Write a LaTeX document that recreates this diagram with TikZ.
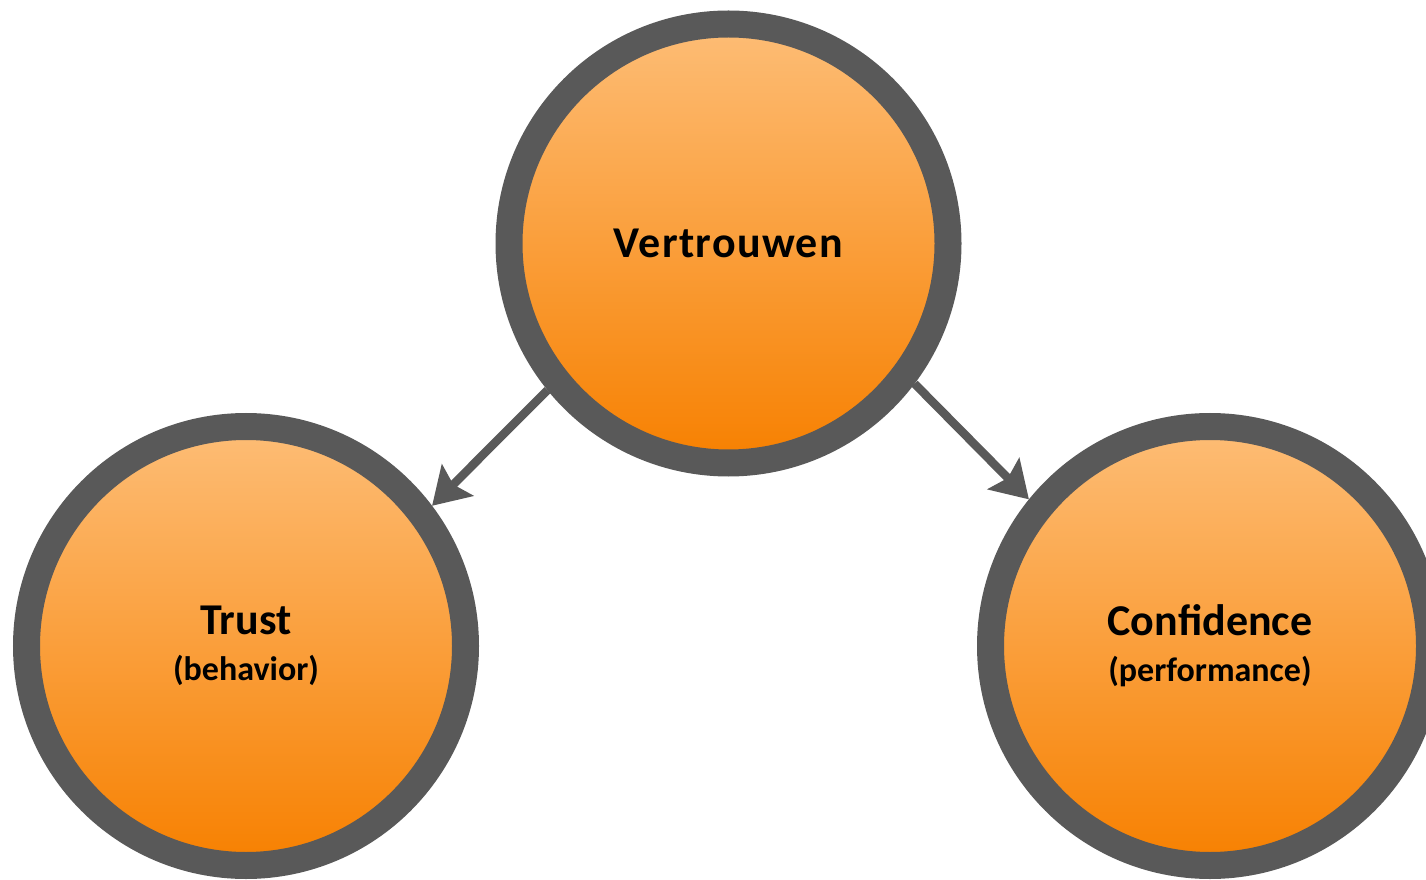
\documentclass[tikz,border=0pt]{standalone}
\usepackage{fontspec}
\setmainfont{Carlito}
\usetikzlibrary{arrows.meta}
\definecolor{ringgray}{RGB}{89,89,89}
\definecolor{orangetop}{RGB}{253,189,118}
\definecolor{orangebot}{RGB}{247,128,0}
\begin{document}
\begin{tikzpicture}[x=1pt,y=1pt,
  bubble/.style={circle, draw=ringgray, line width=27pt, minimum size=439pt, inner sep=0pt,
    top color=orangetop, bottom color=orangebot, align=center, text=black,
    font=\fontsize{44}{48}\selectfont\bfseries},
  link/.style={draw=ringgray, line width=8.5pt,
    -{Stealth[length=36pt,width=44pt,inset=6pt]}}]
\useasboundingbox (0,0) rectangle (1426,879);
\node[bubble] (v) at (728.5,635.5) {\addfontfeature{LetterSpace=3}Vertrouwen};
\node[bubble] (t) at (246,233) {Trust\\[-2pt]{\fontsize{34}{40}\selectfont (behavior)}};
\node[bubble] (c) at (1210,233) {Confidence\\[-2pt]{\fontsize{34}{40}\selectfont (performance)}};
\draw[link] (v.219) -- (t.37);
\draw[link] (v.323) -- (c.141);
\end{tikzpicture}
\end{document}
